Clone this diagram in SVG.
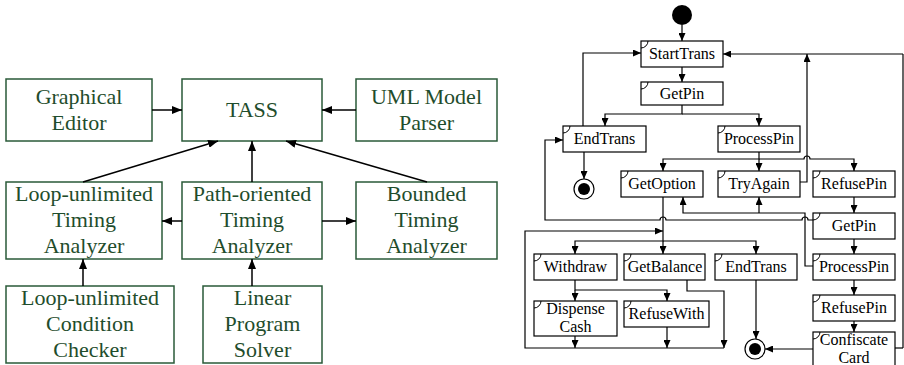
<svg xmlns="http://www.w3.org/2000/svg" width="904" height="365" viewBox="0 0 904 365">
  <style>
    text { font-family: "Liberation Serif", "Times New Roman", Tinos, "DejaVu Serif", serif; }
    .gbox { fill: #ffffff; stroke: #2a5a38; stroke-width: 1.5; }
    .gtxt { font-size: 22px; fill: #1f4d2c; text-anchor: middle; }
    .box { fill: #ffffff; stroke: #000000; stroke-width: 1.2; }
    .mark { fill: none; stroke: #000000; stroke-width: 1; }
    .txt { font-size: 16px; fill: #000000; text-anchor: middle; }
    .edgeL { fill: none; stroke: #000000; stroke-width: 1.5; marker-end: url(#ahL); }
    .edge { fill: none; stroke: #000000; stroke-width: 1.2; }
    .arr { marker-end: url(#ahR); }
  </style>
  <defs>
    <marker id="ahL" viewBox="0 0 10 8" refX="10" refY="4" markerWidth="10" markerHeight="8" markerUnits="userSpaceOnUse" orient="auto">
      <path d="M0,0 L10,4 L0,8 z" fill="#000000"/>
    </marker>
    <marker id="ahR" viewBox="0 0 8 7" refX="8" refY="3.5" markerWidth="8" markerHeight="7" markerUnits="userSpaceOnUse" orient="auto">
      <path d="M0,0 L8,3.5 L0,7 z" fill="#000000"/>
    </marker>
  </defs>

  <!-- Tool architecture -->
  <g id="graphical-editor">
    <rect class="gbox" x="6" y="79" width="146" height="62"/>
    <text class="gtxt" x="79" y="104">Graphical</text>
    <text class="gtxt" x="79" y="130">Editor</text>
  </g>
  <g id="tass">
    <rect class="gbox" x="182" y="79" width="140" height="62"/>
    <text class="gtxt" x="252" y="117">TASS</text>
  </g>
  <g id="uml-parser">
    <rect class="gbox" x="356" y="79" width="141" height="62"/>
    <text class="gtxt" x="426.5" y="104">UML Model</text>
    <text class="gtxt" x="426.5" y="130">Parser</text>
  </g>
  <g id="loop-unlimited-analyzer">
    <rect class="gbox" x="6" y="182" width="156" height="77"/>
    <text class="gtxt" x="84" y="201">Loop-unlimited</text>
    <text class="gtxt" x="84" y="227">Timing</text>
    <text class="gtxt" x="84" y="253">Analyzer</text>
  </g>
  <g id="path-oriented-analyzer">
    <rect class="gbox" x="182" y="182" width="140" height="77"/>
    <text class="gtxt" x="252" y="201">Path-oriented</text>
    <text class="gtxt" x="252" y="227">Timing</text>
    <text class="gtxt" x="252" y="253">Analyzer</text>
  </g>
  <g id="bounded-analyzer">
    <rect class="gbox" x="356" y="182" width="141" height="77"/>
    <text class="gtxt" x="426.5" y="201">Bounded</text>
    <text class="gtxt" x="426.5" y="227">Timing</text>
    <text class="gtxt" x="426.5" y="253">Analyzer</text>
  </g>
  <g id="condition-checker">
    <rect class="gbox" x="6" y="286" width="168" height="77"/>
    <text class="gtxt" x="90" y="305">Loop-unlimited</text>
    <text class="gtxt" x="90" y="331">Condition</text>
    <text class="gtxt" x="90" y="357">Checker</text>
  </g>
  <g id="lp-solver">
    <rect class="gbox" x="203" y="286" width="119" height="77"/>
    <text class="gtxt" x="262.5" y="305">Linear</text>
    <text class="gtxt" x="262.5" y="331">Program</text>
    <text class="gtxt" x="262.5" y="357">Solver</text>
  </g>

  <g id="architecture-connectors">
    <path class="edgeL" d="M152,110 H182"/>
    <path class="edgeL" d="M356,110 H322"/>
    <path class="edgeL" d="M83,182 L218,141"/>
    <path class="edgeL" d="M252,182 V141"/>
    <path class="edgeL" d="M427,182 L286,141"/>
    <path class="edgeL" d="M182,221 H162"/>
    <path class="edgeL" d="M322,221 H356"/>
    <path class="edgeL" d="M83,286 V259"/>
    <path class="edgeL" d="M252,286 V259"/>
  </g>

  <!-- ATM activity diagram -->
  <g id="initial">
    <circle cx="682" cy="15" r="10" fill="#000000"/>
  </g>
  <g id="start-trans">
    <rect class="box" x="641" y="41" width="82" height="26"/>
    <path class="mark" d="M641,48 A7,7 0 0 0 648,41"/>
    <text class="txt" x="682" y="59">StartTrans</text>
  </g>
  <g id="get-pin-1">
    <rect class="box" x="641" y="82" width="82" height="23"/>
    <path class="mark" d="M641,89 A7,7 0 0 0 648,82"/>
    <text class="txt" x="682" y="98.5">GetPin</text>
  </g>
  <g id="end-trans-1">
    <rect class="box" x="563" y="126" width="83" height="26"/>
    <path class="mark" d="M563,133 A7,7 0 0 0 570,126"/>
    <text class="txt" x="604.5" y="144">EndTrans</text>
  </g>
  <g id="process-pin-1">
    <rect class="box" x="718" y="126" width="82" height="26"/>
    <path class="mark" d="M718,133 A7,7 0 0 0 725,126"/>
    <text class="txt" x="759" y="144">ProcessPin</text>
  </g>
  <g id="final-1">
    <circle cx="584" cy="189" r="10" fill="#ffffff" stroke="#000000" stroke-width="1.2"/>
    <circle cx="584" cy="189" r="6" fill="#000000"/>
  </g>
  <g id="get-option">
    <rect class="box" x="621" y="171" width="82" height="26"/>
    <path class="mark" d="M621,178 A7,7 0 0 0 628,171"/>
    <text class="txt" x="662" y="189">GetOption</text>
  </g>
  <g id="try-again">
    <rect class="box" x="718" y="171" width="82" height="26"/>
    <path class="mark" d="M718,178 A7,7 0 0 0 725,171"/>
    <text class="txt" x="759" y="189">TryAgain</text>
  </g>
  <g id="refuse-pin-1">
    <rect class="box" x="813" y="171" width="82" height="26"/>
    <path class="mark" d="M813,178 A7,7 0 0 0 820,171"/>
    <text class="txt" x="854" y="189">RefusePin</text>
  </g>
  <g id="get-pin-2">
    <rect class="box" x="813" y="213" width="82" height="26"/>
    <path class="mark" d="M813,220 A7,7 0 0 0 820,213"/>
    <text class="txt" x="854" y="231">GetPin</text>
  </g>
  <g id="withdraw">
    <rect class="box" x="534" y="254" width="83" height="26"/>
    <path class="mark" d="M534,261 A7,7 0 0 0 541,254"/>
    <text class="txt" x="575.5" y="272">Withdraw</text>
  </g>
  <g id="get-balance">
    <rect class="box" x="624" y="254" width="81" height="26"/>
    <path class="mark" d="M624,261 A7,7 0 0 0 631,254"/>
    <text class="txt" x="665" y="272">GetBalance</text>
  </g>
  <g id="end-trans-2">
    <rect class="box" x="715" y="254" width="82" height="26"/>
    <path class="mark" d="M715,261 A7,7 0 0 0 722,254"/>
    <text class="txt" x="756" y="272">EndTrans</text>
  </g>
  <g id="process-pin-2">
    <rect class="box" x="813" y="254" width="82" height="26"/>
    <path class="mark" d="M813,261 A7,7 0 0 0 820,254"/>
    <text class="txt" x="854" y="272">ProcessPin</text>
  </g>
  <g id="dispense-cash">
    <rect class="box" x="534" y="301" width="83" height="35"/>
    <path class="mark" d="M534,308 A7,7 0 0 0 541,301"/>
    <text class="txt" x="575.5" y="314">Dispense</text>
    <text class="txt" x="575.5" y="332">Cash</text>
  </g>
  <g id="refuse-with">
    <rect class="box" x="624" y="301" width="85" height="26"/>
    <path class="mark" d="M624,308 A7,7 0 0 0 631,301"/>
    <text class="txt" x="666.5" y="319">RefuseWith</text>
  </g>
  <g id="refuse-pin-2">
    <rect class="box" x="813" y="295" width="82" height="26"/>
    <path class="mark" d="M813,302 A7,7 0 0 0 820,295"/>
    <text class="txt" x="854" y="313">RefusePin</text>
  </g>
  <g id="confiscate-card">
    <rect class="box" x="813" y="332" width="82" height="42"/>
    <path class="mark" d="M813,339 A7,7 0 0 0 820,332"/>
    <text class="txt" x="854" y="344.5">Confiscate</text>
    <text class="txt" x="854" y="363">Card</text>
  </g>
  <g id="final-2">
    <circle cx="755" cy="349" r="10" fill="#ffffff" stroke="#000000" stroke-width="1.2"/>
    <circle cx="755" cy="349" r="6" fill="#000000"/>
  </g>

  <g id="activity-connectors">
    <path class="edge arr" d="M682,25 V41"/>
    <path class="edge arr" d="M682,67 V82"/>
    <path class="edge arr" d="M682,105 V114 H605 V126"/>
    <path class="edge arr" d="M682,114 H759 V126"/>
    <path class="edge arr" d="M583,126 V53 H641"/>
    <path class="edge arr" d="M584,152 V179"/>
    <path class="edge arr" d="M759,152 V159 H663 V171"/>
    <path class="edge arr" d="M759,159 V171"/>
    <path class="edge arr" d="M759,159 H804 A3,3 0 0 1 810,159 H854 V171"/>
    <path class="edge arr" d="M800,182 H807 V54"/>
    <path class="edge" d="M895,348 H903"/>
    <path class="edge" d="M903,348 V54" stroke="#9a9a9a"/>
    <path class="edge arr" d="M903,54 H723"/>
    <path class="edge arr" d="M854,197 V213"/>
    <path class="edge arr" d="M854,239 V254"/>
    <path class="edge arr" d="M854,280 V295"/>
    <path class="edge arr" d="M854,321 V332"/>
    <path class="edge arr" d="M813,266 H805 V213 H683 V197"/>
    <path class="edge arr" d="M759,213 V197"/>
    <path class="edge arr" d="M813,220 H808 A3,3 0 0 0 802,220 H666 A3,3 0 0 0 660,220 H545 V140 H563"/>
    <path class="edge arr" d="M663,197 V241 H575 V254"/>
    <path class="edge arr" d="M663,241 V254"/>
    <path class="edge arr" d="M663,241 H756 V254"/>
    <path class="edge arr" d="M756,280 V339"/>
    <path class="edge arr" d="M813,349 H765"/>
    <path class="edge arr" d="M575,280 V290 H667 V301"/>
    <path class="edge arr" d="M575,290 V301"/>
    <path class="edge arr" d="M575,336 V348"/>
    <path class="edge arr" d="M667,327 V348"/>
    <path class="edge arr" d="M687,280 V291 H724 V348"/>
    <path class="edge arr" d="M724,348 H525 V231 H663"/>
  </g>
</svg>
